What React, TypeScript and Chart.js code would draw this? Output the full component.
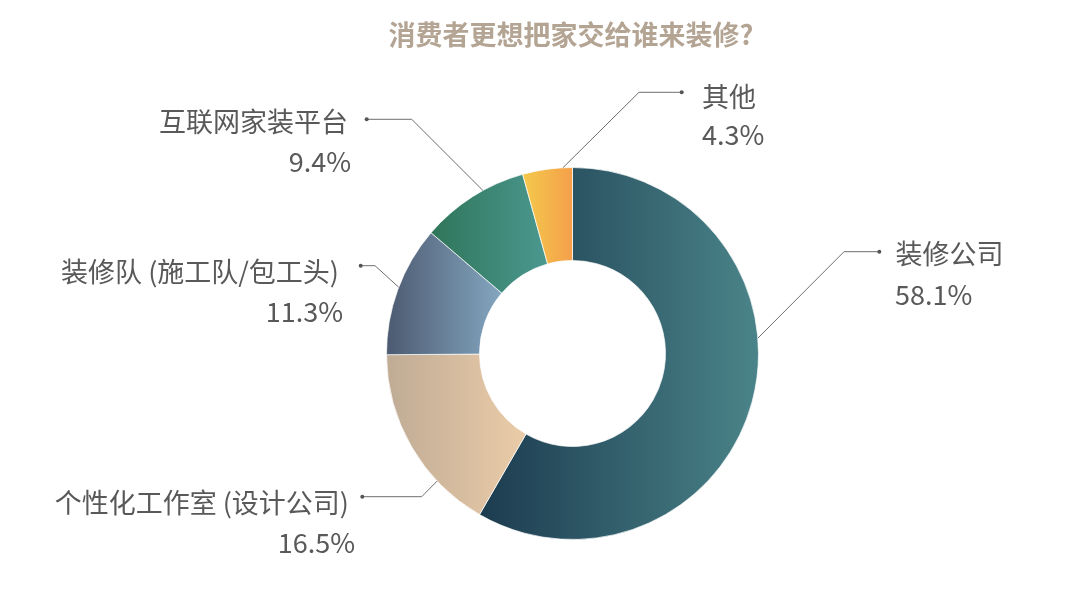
import React, { useEffect, useRef } from "react";
import { Chart, registerables } from "chart.js";
Chart.register(...registerables);

const titleText = "消费者更想把家交给谁来装修?";
const categories = ["装修公司", "个性化工作室 (设计公司)", "装修队 (施工队/包工头)", "互联网家装平台", "其他"];
const shares = [58.1, 16.5, 11.3, 9.4, 4.3];
const percentLabels = ["58.1%", "16.5%", "11.3%", "9.4%", "4.3%"];
const gradientStarts = ["#1c3b4f", "#bfab95", "#4c5a70", "#2f7559", "#f3c94b"];
const gradientEnds = ["#4a8489", "#ebcca8", "#84a6c0", "#4b9890", "#f5a04b"];

const FONT = "'Noto Sans CJK SC', 'Noto Sans', sans-serif";

// label layout (offsets relative to doughnut centre)
const labelLayout = [
  { frac: 0.406, ex: 271.5, ey: -101.8, dot: 306.8, align: "left", nx: 323, ny: -100.2, px: 322.5, py: -58.5 },
  { frac: 0.28, ex: -150.8, ey: 143.2, dot: -210.2, align: "right", nx: -223.5, ny: 149.5, px: -217.5, py: 189.5 },
  { frac: 0.52, ex: -197.5, ey: -87.8, dot: -211.8, align: "right", nx: -233.5, ny: -81.8, px: -229.5, py: -41.8 },
  { frac: 0.61, ex: -160.8, ey: -234.2, dot: -205.8, align: "right", nx: -224.5, ny: -231.8, px: -221.5, py: -191.8 },
  { frac: 0.81, ex: 66.5, ey: -261.2, dot: 109.2, align: "left", nx: 129.5, ny: -256.8, px: 129.5, py: -218.5 },
];

function sliceGradient(chart: any, i: number) {
  const area = chart.chartArea;
  if (!area) return gradientStarts[i];
  const cx = (area.left + area.right) / 2;
  const R = Math.min(area.width, area.height) / 2;
  const r = R * 0.5;
  const total = shares.reduce((a, b) => a + b, 0);
  let before = 0;
  for (let k = 0; k < i; k++) before += shares[k];
  const start = -Math.PI / 2 + (2 * Math.PI * before) / total;
  const end = start + (2 * Math.PI * shares[i]) / total;
  let minX = Infinity;
  let maxX = -Infinity;
  for (let k = 0; k <= 90; k++) {
    const a = start + ((end - start) * k) / 90;
    for (const rad of [r, R]) {
      const x = cx + rad * Math.cos(a);
      if (x < minX) minX = x;
      if (x > maxX) maxX = x;
    }
  }
  const g = chart.ctx.createLinearGradient(minX, 0, maxX, 0);
  g.addColorStop(0, gradientStarts[i]);
  g.addColorStop(1, gradientEnds[i]);
  return g;
}

const labelPlugin = {
  id: "leaderLabels",
  afterDraw(chart: any) {
    const ctx = chart.ctx;
    const meta = chart.getDatasetMeta(0);
    ctx.save();
    // title
    ctx.font = `bold 27px ${FONT}`;
    ctx.fillStyle = "#b4a493";
    ctx.textAlign = "center";
    ctx.textBaseline = "middle";
    ctx.fillText(titleText, 571, 35);

    meta.data.forEach((arc: any, i: number) => {
      const L = labelLayout[i];
      const cx = arc.x;
      const cy = arc.y;
      const a = arc.startAngle + (arc.endAngle - arc.startAngle) * L.frac;
      const ax = cx + arc.outerRadius * Math.cos(a);
      const ay = cy + arc.outerRadius * Math.sin(a);
      const exx = cx + L.ex;
      const eyy = cy + L.ey;
      const dx = cx + L.dot;
      ctx.strokeStyle = "#6e6e6e";
      ctx.lineWidth = 1;
      ctx.beginPath();
      ctx.moveTo(ax, ay);
      ctx.lineTo(exx, eyy);
      ctx.lineTo(dx, eyy);
      ctx.stroke();
      ctx.fillStyle = "#555555";
      ctx.beginPath();
      ctx.arc(dx, eyy, 2, 0, Math.PI * 2);
      ctx.fill();

      ctx.font = `27px ${FONT}`;
      ctx.fillStyle = "#595959";
      ctx.textAlign = L.align as CanvasTextAlign;
      ctx.textBaseline = "middle";
      ctx.fillText(categories[i], cx + L.nx, cy + L.ny);
      ctx.fillText(percentLabels[i], cx + L.px, cy + L.py);
    });
    ctx.restore();
  },
};

export default function App() {
  const ref = useRef<HTMLCanvasElement | null>(null);
  useEffect(() => {
    document.body.style.margin = "0";
    const canvas = ref.current;
    if (!canvas) return;
    const chart = new Chart(canvas, {
      type: "doughnut",
      data: {
        labels: categories,
        datasets: [
          {
            data: shares,
            backgroundColor: (c: any) => sliceGradient(c.chart, c.dataIndex),
            borderColor: "rgba(255,255,255,0.7)",
            borderWidth: 1,
          },
        ],
      },
      options: {
        responsive: false,
        animation: false,
        cutout: "50%",
        layout: { padding: { left: 386, right: 321, top: 167, bottom: 65 } },
        plugins: {
          legend: { display: false },
          title: { display: false },
          tooltip: { enabled: false },
        },
      },
      plugins: [labelPlugin],
    });
    return () => chart.destroy();
  }, []);
  return (
    <div style={{ width: 1080, height: 605, background: "#fff" }}>
      <canvas ref={ref} width={1080} height={605} style={{ display: "block" }} />
    </div>
  );
}
